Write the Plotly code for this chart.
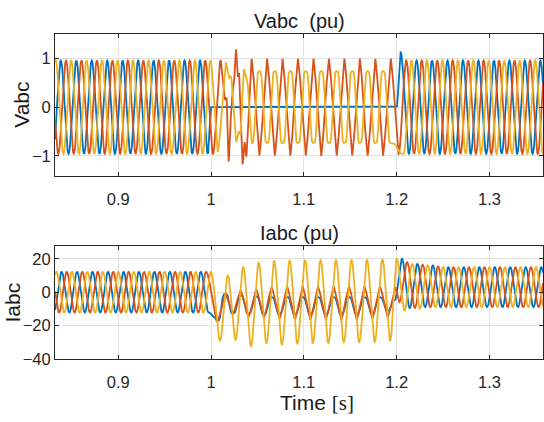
import numpy as np
import plotly.graph_objects as go

# ---------------- data ----------------
F_HZ = 60.0
PERIOD = 1.0 / F_HZ
HALF = PERIOD / 2
T_START, T_FAULT, T_CLEAR, T_END = 0.832, 1.0, 1.2, 1.3577

PHASE_NAMES = ["a", "b", "c"]
COLORS = ["#0072BD", "#D95319", "#EDB120"]

X_TICKS = [0.9, 1.0, 1.1, 1.2, 1.3]
X_TICK_TEXT = ["0.9", "1", "1.1", "1.2", "1.3"]
V_TICKS = [-1, 0, 1]
I_TICKS = [-40, -20, 0, 20]

# ---- voltages (pu) ----
# steady state: crest time of one cycle, amplitude, offset
V_PRE_CREST = [0.98817, 0.99373, 0.99928]
V_PRE_AMP = [0.96, 0.96, 0.96]
V_FAULT_CREST = [None, 0.99373, 1.0021]
V_FAULT_AMP = [0.0, 1.0, 0.74]
V_FAULT_SHAPE = ["c", "l", "f"]
V_POST_CREST = [0.98817, 0.99373, 0.99928]
V_POST_AMP = [0.96, 0.96, 0.96]
# transients (time, value)
V_A_TRANS_T = [1.0, 1.2, 1.2043]
V_A_TRANS_V = [0.0, 0.0, 1.13]
V_B_TRANS_T = [1.0104, 1.0150, 1.0168, 1.0190, 1.0228, 1.0245, 1.0269, 1.0290, 1.0302, 1.0340, 1.0362, 1.0380]
V_B_TRANS_V = [0.97, 0.15, 0.20, -1.12, 0.30, 0.45, 1.19, 0.62, 0.70, -1.18, -0.72, -1.02]
V_C_TRANS_T = [1.0076, 1.0160, 1.0196, 1.0216, 1.0271, 1.0300, 1.0318, 1.0354, 1.0392]
V_C_TRANS_V = [-0.92, 0.92, 0.60, 0.64, -0.72, -0.50, -0.56, 0.78, 0.55]

# ---- currents ----
I_PRE_CREST = [0.9890, 0.9946, 1.0001]
I_PRE_AMP = [12.2, 12.2, 12.2]
# fault period: successive extrema (every half cycle) from first extremum
I_FAULT_T0 = [1.0070, 1.0070, 1.0097]
I_A_FAULT_EXT = [-17.0, -1.0, -12.8, -2.0, -13.0, -2.5, -13.0, -3.0, -13.0, -3.0, -13.0, -3.0,
                 -13.0, -3.0, -13.0, -3.0, -13.0, -3.0, -13.0, -3.0, -12.5, -3.0, -11.0]
I_B_FAULT_EXT = [-17.6, -1.0, -13.0, 1.0, -15.0, 2.0, -15.5, 3.0, -16.0, 3.5, -16.5, 3.5,
                 -16.5, 3.5, -16.5, 3.5, -16.5, 3.5, -16.5, 3.5, -16.0, 3.5, -15.0, 3.0]
I_C_FAULT_EXT = [-29.0, 10.0, -28.5, 15.0, -32.4, 17.6, -30.5, 18.6, -31.4, 19.0, -30.8, 19.0,
                 -30.5, 19.2, -30.5, 19.2, -30.0, 19.2, -30.0, 19.4, -29.8, 19.5, -29.0]
I_FAULT_SHAPE = ["f", "l", "c"]
# post-fault: first extrema then steady oscillation
I_POST_CREST = [1.2057, 1.2113, 1.2001]
I_A_POST_EXT = [20.0, -9.5, 17.0, -9.0, 16.0]
I_B_POST_EXT = [18.0, -9.5, 16.5, -9.0, 15.5]
I_C_POST_EXT = [20.0, -11.0, 17.0, -10.0, 16.0]
I_POST_AMP = [12.0, 12.0, 12.0]
I_POST_OFFSET = [3.0, 3.0, 3.0]
I_BRIDGE_T = [None, 1.2030, None]
I_BRIDGE_V = [None, -6.0, None]
I_A_BRIDGE_T = [1.1980]
I_A_BRIDGE_V = [-5.0]


# ---------------- waveform construction ----------------
def steady(crest, amp, offset, t0, t1, shape):
    k0 = int(np.ceil((t0 - crest) / HALF - 1e-9))
    k1 = int(np.floor((t1 - crest) / HALF + 1e-9))
    ks = np.arange(k0, k1 + 1)
    ts = crest + ks * HALF
    vs = offset + amp * np.where(np.mod(ks, 2) == 0, 1.0, -1.0)
    return list(ts), list(vs), [shape] * len(ts)


def seq(t0, values, shape):
    ts = [t0 + i * HALF for i in range(len(values))]
    return ts, list(values), [shape] * len(values)


def render(kt, kv, ks, t):
    kt = np.asarray(kt); kv = np.asarray(kv)
    order = np.argsort(kt, kind="stable")
    kt, kv = kt[order], kv[order]
    ks = [ks[i] for i in order]
    idx = np.clip(np.searchsorted(kt, t, side="right") - 1, 0, len(kt) - 2)
    t0, t1 = kt[idx], kt[idx + 1]
    v0, v1 = kv[idx], kv[idx + 1]
    p = np.clip((t - t0) / np.maximum(t1 - t0, 1e-12), 0, 1)
    uc = (1 - np.cos(np.pi * p)) / 2
    uf = (1 - np.cos(np.pi * uc)) / 2
    code = np.array([ks[i] for i in idx])
    u = np.where(code == "l", 0.5 * (p + uc), np.where(code == "f", uf, uc))
    return v0 + (v1 - v0) * u


def build(parts):
    kt, kv, ks = [], [], []
    for a, b, c in parts:
        kt += a; kv += b; ks += c
    return kt, kv, ks


t = np.arange(T_START, T_END + 1e-4, 1e-4)
lo, hi = T_START - PERIOD, T_END + PERIOD

# voltages
va = build([steady(V_PRE_CREST[0], V_PRE_AMP[0], 0, lo, T_FAULT - 0.003, "c"),
            (V_A_TRANS_T, V_A_TRANS_V, ["c"] * 3),
            steady(V_POST_CREST[0], V_POST_AMP[0], 0, 1.212, hi, "c")])
vb = build([steady(V_PRE_CREST[1], V_PRE_AMP[1], 0, lo, 1.0025, "c"),
            (V_B_TRANS_T, V_B_TRANS_V, ["l"] * len(V_B_TRANS_T)),
            steady(V_FAULT_CREST[1], V_FAULT_AMP[1], 0, 1.042, T_CLEAR - 0.005, V_FAULT_SHAPE[1]),
            steady(V_POST_CREST[1], V_POST_AMP[1], 0, T_CLEAR - 0.001, hi, "c")])
vc = build([steady(V_PRE_CREST[2], V_PRE_AMP[2], 0, lo, 1.0, "c"),
            (V_C_TRANS_T, V_C_TRANS_V, ["l"] * len(V_C_TRANS_T)),
            steady(V_FAULT_CREST[2], V_FAULT_AMP[2], 0, 1.042, T_CLEAR - 0.005, V_FAULT_SHAPE[2]),
            steady(V_POST_CREST[2], V_POST_AMP[2], 0, T_CLEAR + 0.002, hi, "c")])
V = [render(*va, t), render(*vb, t), render(*vc, t)]

# currents
ia = build([steady(I_PRE_CREST[0], I_PRE_AMP[0], 0, lo, T_FAULT, "c"),
            seq(I_FAULT_T0[0], I_A_FAULT_EXT, I_FAULT_SHAPE[0]),
            (I_A_BRIDGE_T, I_A_BRIDGE_V, ["c"]),
            seq(I_POST_CREST[0], I_A_POST_EXT, "c"),
            steady(I_POST_CREST[0], I_POST_AMP[0], I_POST_OFFSET[0],
                   I_POST_CREST[0] + len(I_A_POST_EXT) * HALF - 1e-6, hi, "c")])
ib = build([steady(I_PRE_CREST[1], I_PRE_AMP[1], 0, lo, T_FAULT, "c"),
            seq(I_FAULT_T0[1], I_B_FAULT_EXT, I_FAULT_SHAPE[1]),
            ([I_BRIDGE_T[1]], [I_BRIDGE_V[1]], ["c"]),
            seq(I_POST_CREST[1], I_B_POST_EXT, "c"),
            steady(I_POST_CREST[1], I_POST_AMP[1], I_POST_OFFSET[1],
                   I_POST_CREST[1] + len(I_B_POST_EXT) * HALF - 1e-6, hi, "c")])
ic = build([steady(I_PRE_CREST[2], I_PRE_AMP[2], 0, lo, T_FAULT + 0.001, "c"),
            seq(I_FAULT_T0[2], I_C_FAULT_EXT, I_FAULT_SHAPE[2]),
            seq(I_POST_CREST[2], I_C_POST_EXT, "c"),
            steady(I_POST_CREST[2], I_POST_AMP[2], I_POST_OFFSET[2],
                   I_POST_CREST[2] + len(I_C_POST_EXT) * HALF - 1e-6, hi, "c")])
I = [render(*ia, t), render(*ib, t), render(*ic, t)]

# ---------------- figure ----------------
W, H = 544, 422
fig = go.Figure()
for k in range(3):
    fig.add_trace(go.Scatter(x=t, y=V[k], mode="lines", name="V" + PHASE_NAMES[k],
                             line=dict(color=COLORS[k], width=1.8), xaxis="x", yaxis="y"))
for k in range(3):
    fig.add_trace(go.Scatter(x=t, y=I[k], mode="lines", name="I" + PHASE_NAMES[k],
                             line=dict(color=COLORS[k], width=1.8), xaxis="x2", yaxis="y2"))

def py(px):
    return 1 - px / H

FONT = "Liberation Sans, Arial, Helvetica, sans-serif"
AX = dict(showline=True, linecolor="#262626", linewidth=1, mirror="ticks",
          ticks="inside", ticklen=4, tickcolor="#262626", showgrid=True,
          gridcolor="#e3e3e3", gridwidth=1, zeroline=False,
          tickfont=dict(family=FONT, size=16.5, color="#262626"))

fig.update_layout(
    width=W, height=H, margin=dict(l=55, r=0, t=0, b=0),
    paper_bgcolor="white", plot_bgcolor="white", showlegend=False,
    xaxis=dict(AX, domain=[0, 1], range=[T_START - 0.0001, T_END], tickvals=X_TICKS,
               ticktext=X_TICK_TEXT, anchor="y", ticklabelstandoff=8),
    yaxis=dict(AX, domain=[py(180), py(35)], range=[-1.42, 1.5], tickvals=V_TICKS, anchor="x"),
    xaxis2=dict(AX, domain=[0, 1], range=[T_START - 0.0001, T_END], tickvals=X_TICKS,
                ticktext=X_TICK_TEXT, anchor="y2", ticklabelstandoff=8),
    yaxis2=dict(AX, domain=[py(366.7), py(251.7)], range=[-40, 27.5], tickvals=I_TICKS, anchor="x2"),
)

def ann(text, xpx, ypx, size, angle=0):
    fig.add_annotation(text=text, xref="paper", yref="paper",
                       x=(xpx - 55) / (W - 55), y=py(ypx), xanchor="center", yanchor="middle",
                       showarrow=False, textangle=angle,
                       font=dict(family=FONT, size=size, color="#1a1a1a"))

ann("Vabc&nbsp;&nbsp;(pu)", 300, 21, 20)
ann("Iabc (pu)", 300, 238, 20)
ann("Vabc", 22, 107, 21, -90)
ann("Iabc", 12, 309, 21, -90)
ann("Time <span style='font-family:Liberation Serif, Times New Roman, serif'>[s]</span>", 318, 412, 21)

fig.write_html("out.html")
